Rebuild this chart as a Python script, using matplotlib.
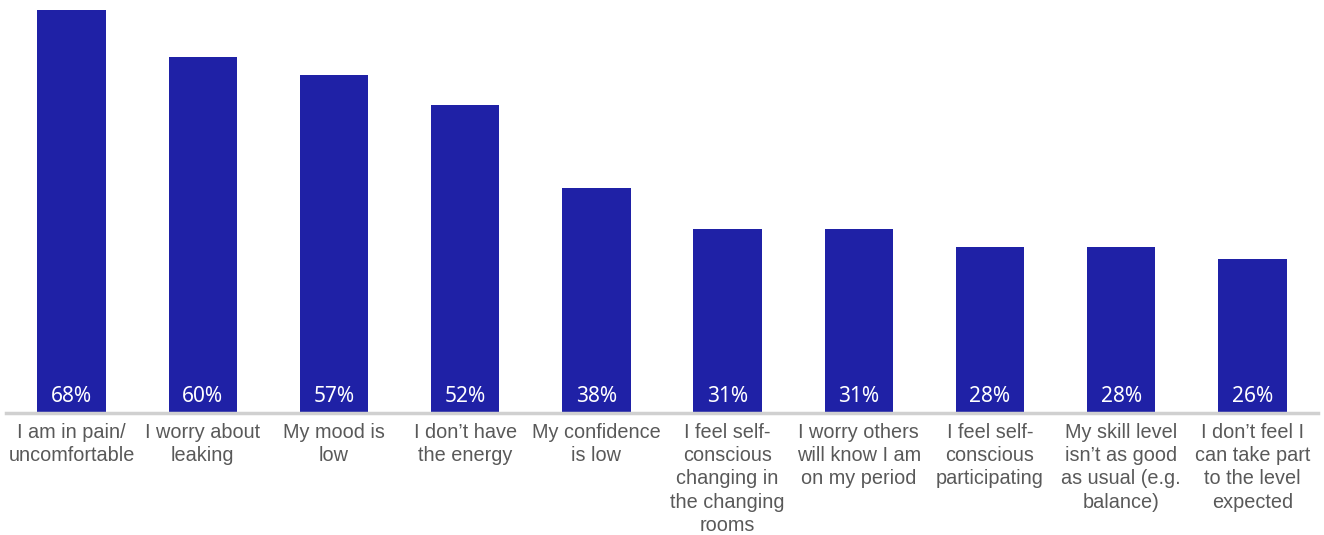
import matplotlib.pyplot as plt

# Data
categories = [
    "I am in pain/\nuncomfortable",
    "I worry about\nleaking",
    "My mood is\nlow",
    "I don\u2019t have\nthe energy",
    "My confidence\nis low",
    "I feel self-\nconscious\nchanging in\nthe changing\nrooms",
    "I worry others\nwill know I am\non my period",
    "I feel self-\nconscious\nparticipating",
    "My skill level\nisn\u2019t as good\nas usual (e.g.\nbalance)",
    "I don\u2019t feel I\ncan take part\nto the level\nexpected",
]
values = [68, 60, 57, 52, 38, 31, 31, 28, 28, 26]

bar_color = "#1F21A6"

fig = plt.figure(figsize=(13.24, 5.35), dpi=100)
ax = fig.add_axes([6 / 1324, (535 - 413) / 535, 1312 / 1324, 403 / 535])

x = list(range(len(values)))
ax.bar(x, values, width=0.52, color=bar_color, zorder=2)

# Percent labels inside the bars, near the bottom
for xi, v in zip(x, values):
    ax.text(xi, 1.85, f"{v}%", ha="center", va="baseline", color="white",
            fontsize=15, family="Noto Sans", zorder=3)

ax.set_xlim(-0.5, len(values) - 0.5)
ax.set_ylim(0, 68)

ax.set_xticks(x)
ax.set_xticklabels(categories, fontsize=14.3, family="Liberation Sans",
                   color="#595959", linespacing=1.29)
ax.tick_params(axis="x", length=0, pad=7)
ax.set_yticks([])

for side in ["top", "right", "left"]:
    ax.spines[side].set_visible(False)
ax.spines["bottom"].set_color("#D0D0D0")
ax.spines["bottom"].set_linewidth(2.5)
ax.spines["bottom"].set_zorder(4)

fig.savefig("out.png", dpi=100)
